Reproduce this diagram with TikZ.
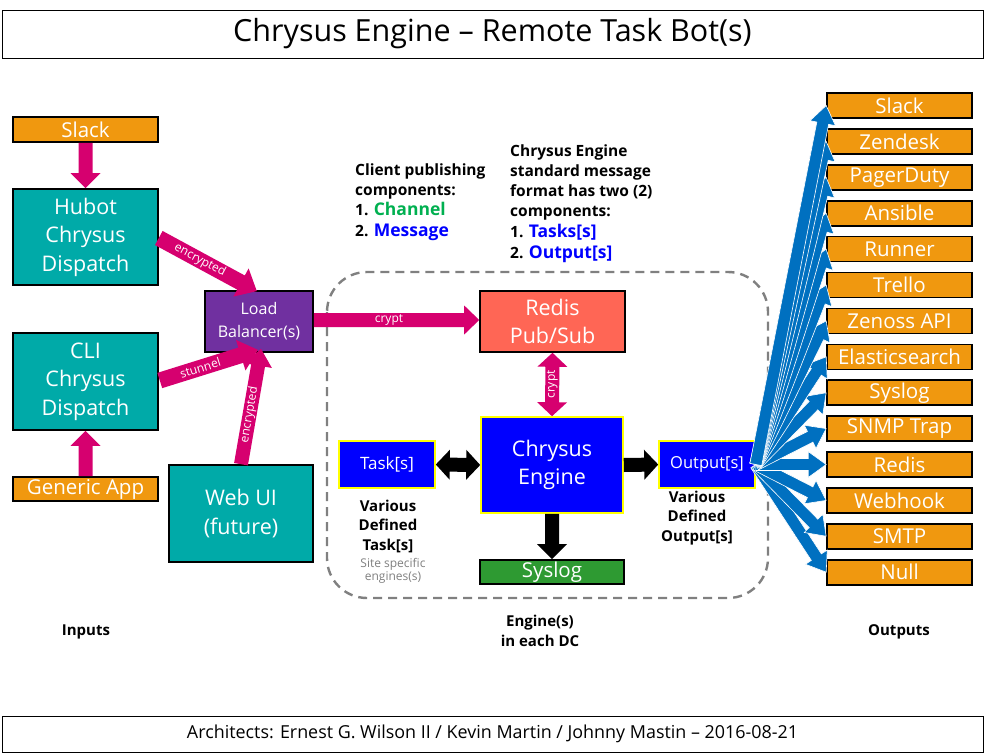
\documentclass[tikz,border=0pt]{standalone}
\usepackage{fontspec}
\setmainfont{Open Sans}
\usetikzlibrary{calc}
\definecolor{orng}{HTML}{F0980F}
\definecolor{tealc}{HTML}{00AAA8}
\definecolor{purp}{HTML}{7030A0}
\definecolor{mag}{HTML}{D6006F}
\definecolor{salm}{HTML}{FF6655}
\definecolor{blu}{HTML}{0000FF}
\definecolor{yel}{HTML}{FFFF00}
\definecolor{grn}{HTML}{2E9A32}
\definecolor{fanb}{HTML}{0070C0}
\definecolor{chgreen}{HTML}{00B050}
% block arrow: from, to, shaft half width, head half width, head length, style, label
\newcommand\blockarr[7]{%
  \path[#6] let \p1=(#1), \p2=(#2), \n1={atan2(\y2-\y1,\x2-\x1)}, \n2={veclen(\x2-\x1,\y2-\y1)} in
    [shift={(\p1)}, rotate=\n1]
    (0,-#3) -- ({\n2-#5},-#3) -- ({\n2-#5},-#4) -- (\n2,0) -- ({\n2-#5},#4) -- ({\n2-#5},#3) -- (0,#3) -- cycle
    ({(\n2-#5)/2},0) node[transform shape, lbl] {#7};}
% double headed block arrow
\newcommand\dblarr[7]{%
  \path[#6] let \p1=(#1), \p2=(#2), \n1={atan2(\y2-\y1,\x2-\x1)}, \n2={veclen(\x2-\x1,\y2-\y1)} in
    [shift={(\p1)}, rotate=\n1]
    (0,0) -- (#5,-#4) -- (#5,-#3) -- ({\n2-#5},-#3) -- ({\n2-#5},-#4) -- (\n2,0) -- ({\n2-#5},#4) -- ({\n2-#5},#3) -- (#5,#3) -- (#5,#4) -- cycle
    ({\n2/2},0) node[transform shape, lbl] {#7};}
\begin{document}
\begin{tikzpicture}[x=1pt,y=-1pt,
  box/.style={draw=black, line width=1.6pt, align=center, inner sep=0pt, text=white, font=\fontsize{21.5}{28.5}\selectfont},
  obox/.style={box, fill=orng, minimum width=145pt, minimum height=25pt, font=\fontsize{20.5}{22}\selectfont},
  tbox/.style={box, fill=tealc, minimum width=145pt, minimum height=96pt},
  ybox/.style={box, fill=blu, draw=yel},
  lbl/.style={text=white, font=\fontsize{12}{13}\selectfont, inner sep=0pt},
  note/.style={font=\bfseries\fontsize{15}{19.5}\selectfont, align=center, inner sep=0pt},
  clr/.style={font=\bfseries\fontsize{15.5}{20}\selectfont, align=left, inner sep=0pt, anchor=north west},
  magarr/.style={fill=mag},
  blkarr/.style={fill=black},
  fanarr/.style={fill=fanb, draw=white, line width=0.6pt}]
\useasboundingbox (0,0) rectangle (985,755);
\fill[white] (0,0) rectangle (985,755);

% title and footer
\node[draw=black, line width=1pt, minimum width=981pt, minimum height=48pt, inner sep=0pt,
      font=\fontsize{30.5}{34}\selectfont] (title) at (492.5,34) {Chrysus Engine -- Remote Task Bot(s)};
\node[draw=black, line width=1pt, minimum width=981pt, minimum height=36pt, inner sep=0pt,
      font=\fontsize{17.9}{20}\selectfont] (footer) at (492.5,734) {Architects: Ernest G. Wilson II / Kevin Martin / Johnny Mastin -- 2016-08-21};

% engine region
\draw[gray, line width=2.4pt, dash pattern=on 9pt off 6pt, rounded corners=40pt] (327,272) rectangle (768,598);

% inputs
\node[obox] (slackin) at (85.5,129.5) {Slack};
\node[tbox] (hubot) at (85.5,237) {Hubot\\Chrysus\\Dispatch};
\node[tbox, minimum height=97pt] (cli) at (85.5,381.5) {CLI\\Chrysus\\Dispatch};
\node[obox, minimum height=24pt] (generic) at (85.5,489) {Generic App};
\node[box, fill=purp, minimum width=108pt, minimum height=61pt, font=\fontsize{16}{23}\selectfont] (lb) at (259,321.5) {Load\\Balancer(s)};
\node[tbox, minimum width=144pt, minimum height=97pt] (webui) at (241,513.5) {Web UI\\(future)};

% engine parts
\node[box, fill=salm, minimum width=145pt, minimum height=61pt] (redis) at (552.5,321.5) {Redis\\Pub/Sub};
\node[ybox, minimum width=142pt, minimum height=96pt] (engine) at (552,465) {Chrysus\\Engine};
\node[ybox, minimum width=96pt, minimum height=47pt, font=\fontsize{17}{20}\selectfont] (task) at (387,464.5) {Task[s]};
\node[ybox, minimum width=96pt, minimum height=47pt, font=\fontsize{16.5}{20}\selectfont] (outp) at (707,464.5) {Output[s]};
\node[box, fill=grn, minimum width=144pt, minimum height=24pt, font=\fontsize{20.5}{22}\selectfont] (syslogc) at (552,572) {Syslog};

% outputs
\foreach \t [count=\i from 0] in {Slack,Zendesk,PagerDuty,Ansible,Runner,Trello,Zenoss API,Elasticsearch,Syslog,SNMP Trap,Redis,Webhook,SMTP,Null}{
  \node[obox] (o\i) at (899.5,{105.5+35.9*\i}) {\t};}

% notes
\node[clr] (n1) at (355,163.5) {Client publishing\\components:\\1. {\color{chgreen}\fontsize{17.5}{20}\selectfont Channel}\\[1.5pt]2. {\color{blu}\fontsize{17.5}{20}\selectfont Message}};
\node[clr] (n2) at (510,144.5) {Chrysus Engine\\standard message\\format has two (2)\\components:\\[1pt]1. {\color{blu}\fontsize{17.5}{20}\selectfont Tasks[s]}\\[1pt]2. {\color{blu}\fontsize{17.5}{20}\selectfont Output[s]}};
\node[note] (vt) at (388,526) {Various\\Defined\\Task[s]};
\node[font=\fontsize{12}{13.5}\selectfont, text=gray, align=center, inner sep=0pt] (site) at (393,571) {Site specific\\engines(s)};
\node[note] (vo) at (697,518) {Various\\Defined\\Output[s]};
\node[note] (edc) at (540,631) {Engine(s)\\in each DC};
\node[note] (inl) at (86,632) {Inputs};
\node[note] (outl) at (899,632) {Outputs};

% magenta arrows
\blockarr{slackin.south}{hubot.north}{7}{15}{15}{magarr}{}
\blockarr{generic.north}{cli.south}{7}{15}{15}{magarr}{}
\coordinate (hs) at ($(hubot.east)+(0,1)$);
\coordinate (ht) at ($(lb.north)+(-2,1)$);
\blockarr{hs}{ht}{8}{16}{18}{magarr}{encrypted}
\coordinate (cs) at ($(cli.east)+(1,-1)$);
\coordinate (ct) at ($(lb.south)+(-1,-3)$);
\blockarr{cs}{ct}{8}{16}{18}{magarr}{stunnel}
\coordinate (ws) at ($(webui.north)+(0,0)$);
\coordinate (wt) at ($(lb.south)+(2,-4)$);
\blockarr{ws}{wt}{7}{14}{17}{magarr}{encrypted}
\coordinate (ls) at ($(lb.east)+(0,-1.5)$);
\coordinate (lt) at ($(redis.west)+(0,-1.5)$);
\blockarr{ls}{lt}{7}{14.5}{15}{magarr}{crypt}
\dblarr{engine.north}{redis.south}{7}{15}{14}{magarr}{crypt}

% black arrows
\dblarr{task.east}{engine.west}{7}{15}{14}{blkarr}{}
\blockarr{engine.east}{outp.west}{7}{15}{14}{blkarr}{}
\blockarr{engine.south}{syslogc.north}{7}{15}{15}{blkarr}{}

% fan of output arrows
\foreach \i in {13,12,...,0}{
  \blockarr{outp.east}{o\i.west}{6}{13}{18}{fanarr}{}}
\end{tikzpicture}
\end{document}
